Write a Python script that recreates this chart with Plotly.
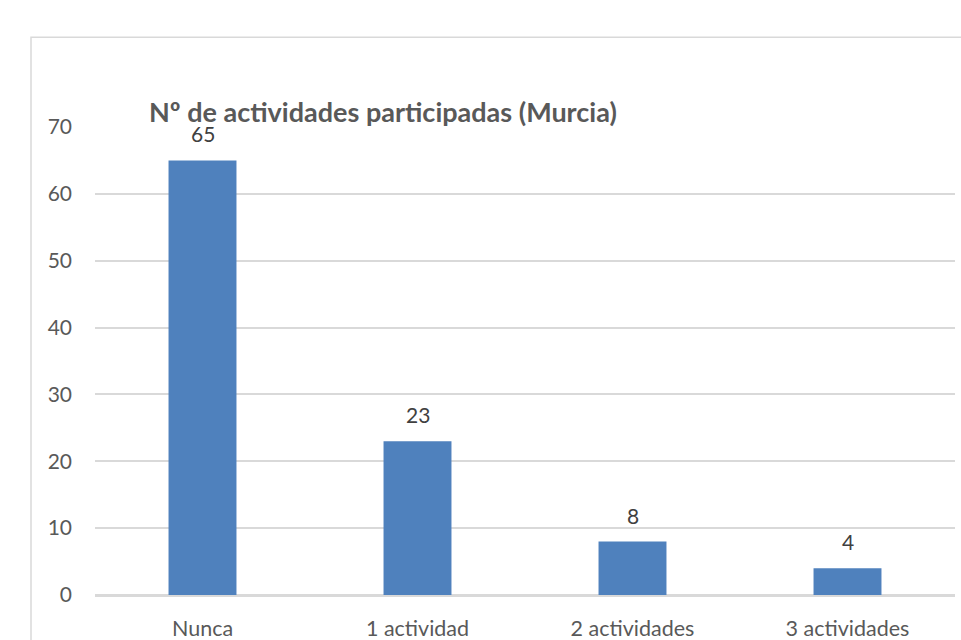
import plotly.graph_objects as go

categories = ["Nunca", "1 actividad", "2 actividades", "3 actividades"]
values = [65, 23, 8, 4]
y_ticks = [0, 10, 20, 30, 40, 50, 60, 70]
title_text = "Nº de actividades participadas (Murcia)"

W, H = 961, 640
L, R = 95, W - 955
T = 126.5
B = H - 595.3
pw = W - L - R
ph = H - T - B

def px_x(x):
    return (x - L) / pw

def px_y(y):
    return (H - B - y) / ph

FONT = "Lato, Open Sans, sans-serif"
GRAY = "#595959"

fig = go.Figure()
fig.add_trace(go.Bar(
    x=categories, y=values,
    marker=dict(color="#4F81BD", line=dict(width=0)),
    width=0.316,
    hoverinfo="x+y",
))

for c, v in zip(categories, values):
    fig.add_annotation(x=c, y=v, xref="x", yref="y", text=str(v),
                       showarrow=False, yanchor="bottom", yshift=12,
                       font=dict(family=FONT, size=21, color="#404040"))

fig.add_annotation(x=px_x(383), y=px_y(111), xref="paper", yref="paper",
                   text="<b>" + title_text + "</b>", showarrow=False,
                   xanchor="center", yanchor="middle",
                   font=dict(family=FONT, size=27, color=GRAY))

fig.add_shape(type="rect", xref="paper", yref="paper",
              x0=px_x(31), x1=px_x(990), y0=px_y(680), y1=px_y(36.5),
              line=dict(color="#D9D9D9", width=1.5), fillcolor="rgba(0,0,0,0)",
              layer="below")

fig.update_layout(
    width=W, height=H,
    margin=dict(l=L, r=R, t=T, b=B, pad=0, autoexpand=False),
    paper_bgcolor="white", plot_bgcolor="white",
    showlegend=False,
    font=dict(family=FONT, size=21, color=GRAY),
    xaxis=dict(type="category", showgrid=False, showline=True,
               linecolor="#D9D9D9", linewidth=1.5, ticks="",
               ticklabelstandoff=13, automargin=False,
               tickfont=dict(family=FONT, size=21.5, color=GRAY),
               range=[-0.5, 3.5]),
    yaxis=dict(range=[0, 70], tickvals=y_ticks, showgrid=True,
               gridcolor="#D9D9D9", gridwidth=1.5, zeroline=True,
               zerolinecolor="#D9D9D9", zerolinewidth=1.5,
               showline=False, ticks="", ticklabelstandoff=22,
               automargin=False,
               tickfont=dict(family=FONT, size=21, color=GRAY)),
)

fig.write_html(
    "out.html",
    config={"displayModeBar": False},
    post_script="document.body.style.margin='0';document.body.style.overflow='hidden';",
)
